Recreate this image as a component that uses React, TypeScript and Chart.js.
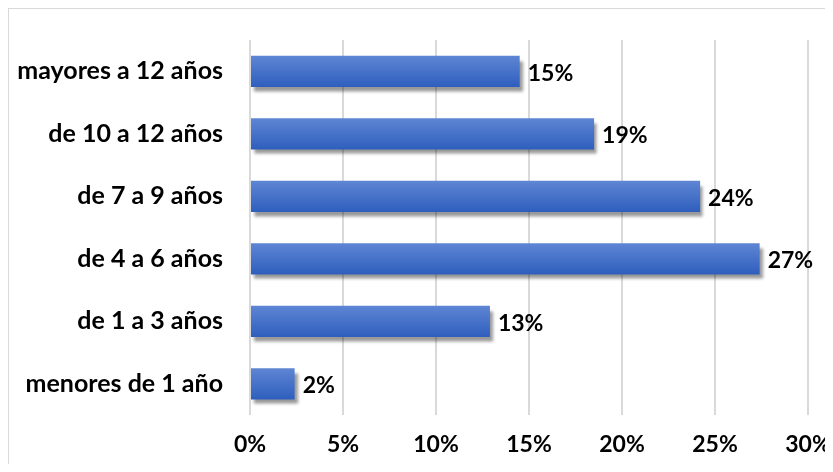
import React, { useEffect, useRef } from "react";
import { Chart, registerables } from "chart.js";

Chart.register(...registerables);

const categories = [
  "mayores a 12 años",
  "de 10 a 12 años",
  "de 7 a 9 años",
  "de 4 a 6 años",
  "de 1 a 3 años",
  "menores de 1 año",
];
const values = [14.5, 18.5, 24.2, 27.4, 12.9, 2.4];
const valueLabels = ["15%", "19%", "24%", "27%", "13%", "2%"];
const xTicks = [0, 5, 10, 15, 20, 25, 30];

const FONT_FAMILY = "Lato, sans-serif";
const FONT_SIZE = 25;
const NUM_FONT_SIZE = 23;

export default function App() {
  const ref = useRef<HTMLCanvasElement | null>(null);

  useEffect(() => {
    if (!ref.current) return;
    const labelPlugin = {
      id: "shadowAndLabels",
      beforeDatasetsDraw(chart: any) {
        const ctx = chart.ctx;
        ctx.save();
        ctx.shadowColor = "rgba(0,0,0,0.4)";
        ctx.shadowOffsetX = 3;
        ctx.shadowOffsetY = 5;
        ctx.shadowBlur = 3;
      },
      afterDatasetsDraw(chart: any) {
        const ctx = chart.ctx;
        ctx.restore();
        const meta = chart.getDatasetMeta(0);
        ctx.save();
        ctx.font = `bold ${NUM_FONT_SIZE}px ${FONT_FAMILY}`;
        ctx.fillStyle = "#000000";
        ctx.textAlign = "left";
        ctx.textBaseline = "middle";
        meta.data.forEach((bar: any, i: number) => {
          ctx.fillText(valueLabels[i], bar.x + 8, bar.y + 2);
        });
        ctx.restore();
      },
    };

    const chart = new Chart(ref.current, {
      type: "bar",
      data: {
        labels: categories,
        datasets: [
          {
            data: values,
            backgroundColor: (c: any) => {
              const ch = c.chart;
              const ys = ch.scales && ch.scales.y;
              if (!ys || c.dataIndex === undefined || !isFinite(ys.height)) return "#4472c4";
              const center = ys.getPixelForValue(c.dataIndex);
              const h = (ys.height / categories.length) * 0.5;
              const g = ch.ctx.createLinearGradient(0, center - h / 2, 0, center + h / 2);
              g.addColorStop(0, "#5f86d4");
              g.addColorStop(1, "#2e5ebd");
              return g;
            },
            borderWidth: 0,
            barPercentage: 0.5,
            categoryPercentage: 1,
          },
        ],
      },
      options: {
        indexAxis: "y",
        responsive: false,
        animation: false,
        events: [],
        layout: { padding: { left: 0, right: 25, top: 31, bottom: 0 } },
        plugins: {
          legend: { display: false },
          tooltip: { enabled: false },
          title: { display: false },
        },
        scales: {
          x: {
            min: 0,
            max: 30,
            afterBuildTicks: (scale: any) => {
              scale.ticks = xTicks.map((v) => ({ value: v }));
            },
            afterFit: (scale: any) => {
              scale.height = 49;
              scale.paddingLeft = 0;
              scale.paddingRight = 0;
            },
            grid: { color: "#d9d9d9", lineWidth: 2, drawTicks: false },
            border: { display: false },
            ticks: {
              padding: 16,
              color: "#000000",
              font: { family: FONT_FAMILY, size: NUM_FONT_SIZE, weight: "bold" },
              callback: (v: any) => `${v}%`,
              maxRotation: 0,
            },
          },
          y: {
            afterFit: (scale: any) => {
              scale.width = 241;
              scale.paddingTop = 0;
              scale.paddingBottom = 0;
            },
            grid: { display: false, drawTicks: false },
            border: { display: false },
            ticks: {
              padding: 27,
              color: "#000000",
              font: { family: FONT_FAMILY, size: FONT_SIZE, weight: "bold" },
            },
          },
        },
      },
      plugins: [labelPlugin],
    } as any);
    return () => chart.destroy();
  }, []);

  return (
    <div
      style={{
        position: "relative",
        width: 825,
        height: 456,
        borderLeft: "1px solid #d9d9d9",
        borderTop: "1px solid #d9d9d9",
        boxSizing: "border-box",
        background: "#ffffff",
      }}
    >
      <canvas
        ref={ref}
        width={824}
        height={455}
        style={{ position: "absolute", left: 0, top: 0, width: 824, height: 455 }}
      />
    </div>
  );
}
